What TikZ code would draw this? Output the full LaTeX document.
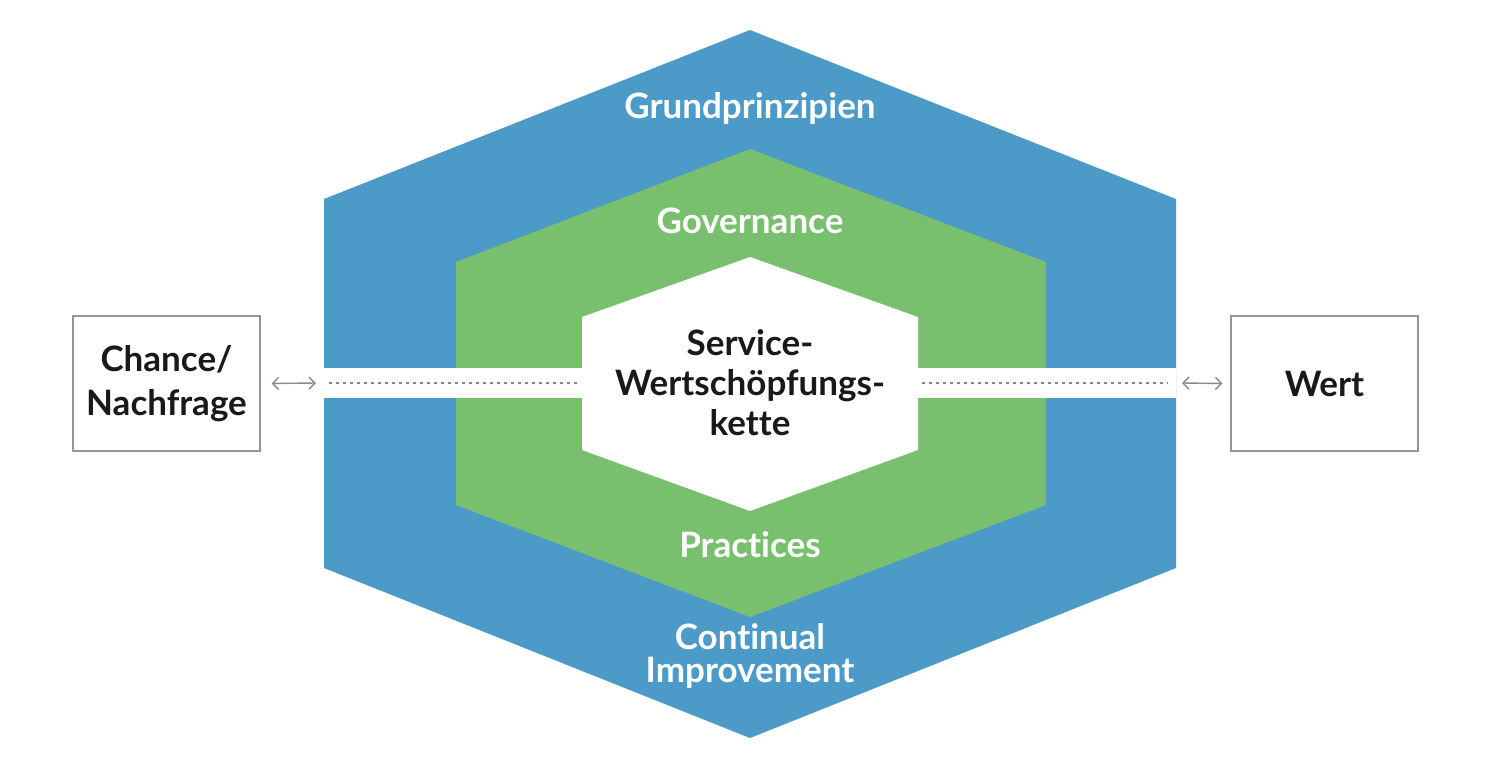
\documentclass[tikz,border=0pt]{standalone}
\usepackage{fontspec}
\setmainfont{Lato}[BoldFont={Lato Bold}, Ligatures=NoCommon]
\usetikzlibrary{arrows.meta}
\definecolor{hexblue}{RGB}{76,154,199}
\definecolor{hexgreen}{RGB}{120,191,110}
\definecolor{linegray}{RGB}{135,135,135}
\definecolor{boxgray}{RGB}{150,150,150}
\definecolor{txtblack}{RGB}{25,25,25}
\tikzset{
  lbl/.style={font=\bfseries\fontsize{35}{33}\selectfont, text=white, align=center, inner sep=0pt},
  darklbl/.style={font=\bfseries\fontsize{35}{40}\selectfont, text=txtblack, align=center, inner sep=0pt},
  sidebox/.style={draw=boxgray, line width=1.2pt, fill=white, minimum width=187pt, minimum height=135pt, inner sep=0pt,
    font=\bfseries\fontsize{35}{44}\selectfont, text=txtblack, align=center},
  dotline/.style={draw=linegray, line width=1.6pt, dash pattern=on 2.5pt off 4.5pt},
  dblarrow/.style={draw=linegray, line width=1.4pt, {Straight Barb[length=6pt,width=12pt]}-{Straight Barb[length=6pt,width=12pt]}}
}
\begin{document}
\begin{tikzpicture}[x=1pt,y=-1pt]
\useasboundingbox (0,0) rectangle (1500,768);
\fill[white] (0,0) rectangle (1500,768);
% outer hexagon
\fill[hexblue] (750,30) -- (1176,199) -- (1176,568) -- (750,738) -- (324,568) -- (324,199) -- cycle;
% middle hexagon
\fill[hexgreen] (750,149) -- (1046,262) -- (1046,505) -- (750,617) -- (456,505) -- (456,262) -- cycle;
% white band
\fill[white] (324,368) rectangle (1176,398);
% inner hexagon
\fill[white] (750,257) -- (918,317) -- (918,450) -- (750,511) -- (582,450) -- (582,317) -- cycle;
% dotted lines
\coordinate (dl1) at (329,383);
\coordinate (dl2) at (577,383);
\coordinate (dr1) at (922,383);
\coordinate (dr2) at (1168,383);
\draw[dotline] (dl1) -- (dl2);
\draw[dotline] (dr1) -- (dr2);
% labels
\node[lbl] (grund) at (750,108) {Grundprinzipien};
\node[lbl] (gov) at (750,221) {Governance};
\node[lbl] (prac) at (750,545) {Practices};
\node[lbl] (ci) at (750,656) {Continual\\Improvement};
\node[darklbl] (svc) at (750,383) {Service-\\Wertschöpfungs-\\kette};
% side boxes
\node[sidebox] (chance) at (166.5,383.5) {Chance/\\Nachfrage};
\node[sidebox] (wert) at (1324.5,383.5) {Wert};
% arrows
\coordinate (al) at (316,383);
\coordinate (ar) at (1182,383);
\draw[dblarrow] ([xshift=11pt]chance.east) -- (al);
\draw[dblarrow] (ar) -- ([xshift=-8pt]wert.west);
\end{tikzpicture}
\end{document}
